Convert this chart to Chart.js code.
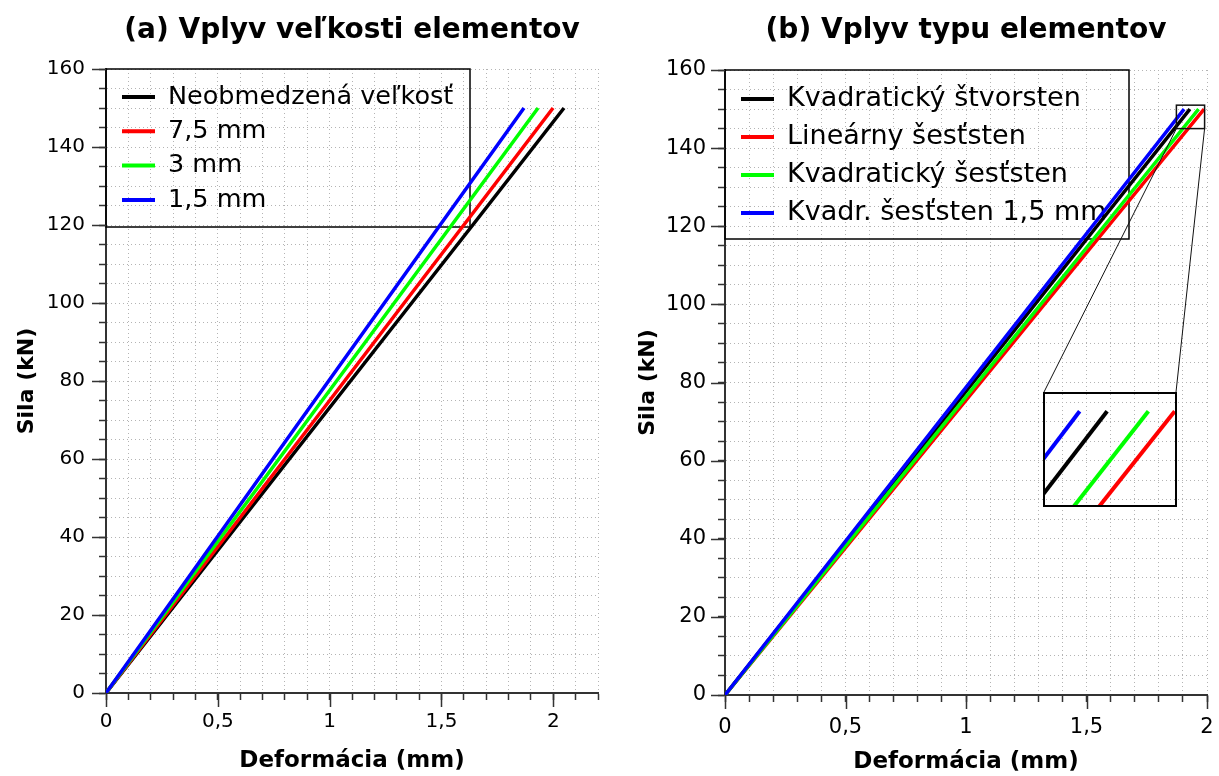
<!DOCTYPE html>
<html>
<head>
<meta charset="utf-8">
<script src="https://cdn.jsdelivr.net/npm/chart.js@4.4.0/dist/chart.umd.min.js"></script>
<style>
  html, body { margin: 0; padding: 0; background: #fff; }
  #wrap { position: relative; width: 1219px; height: 776px; overflow: hidden; }
  #leftChart { position: absolute; left: 0; top: 0; }
  #rightChart { position: absolute; left: 610px; top: 0; }
  #insetChart { position: absolute; left: 1043px; top: 392px; }
</style>
</head>
<body>
<div id="wrap">
  <canvas id="leftChart" width="610" height="776"></canvas>
  <canvas id="rightChart" width="609" height="776"></canvas>
  <canvas id="insetChart" width="134" height="115"></canvas>
</div>
<script>
const sila = [0, 30, 60, 90, 120, 150];

// (a) element size - deformation (mm)
const neobmedzena = [0, 0.41, 0.82, 1.23, 1.64, 2.048];
const mm75 = [0, 0.40, 0.80, 1.20, 1.60, 1.999];
const mm3 = [0, 0.386, 0.773, 1.16, 1.546, 1.932];
const mm15 = [0, 0.373, 0.746, 1.12, 1.494, 1.869];

// (b) element type - deformation (mm)
const kvadStvorsten = [0, 0.386, 0.772, 1.158, 1.543, 1.929];
const linSeststen = [0, 0.398, 0.795, 1.193, 1.59, 1.988];
const kvadSeststen = [0, 0.393, 0.786, 1.179, 1.572, 1.965];
const kvadSeststen15 = [0, 0.381, 0.762, 1.143, 1.524, 1.905];

// axis ticks
const yLabels = [0, 20, 40, 60, 80, 100, 120, 140, 160];
const xLabels = [0, 0.5, 1, 1.5, 2];
const yStep = 5;
const xStep = 0.1;

// zoomed window shown in the inset of (b)
const insetX = [1.873, 1.99];
const insetY = [145, 151];

const FONT = '"DejaVu Sans", sans-serif';
Chart.defaults.font.family = FONT;
Chart.defaults.color = '#000';

const toPoints = xs => xs.map((x, i) => ({ x, y: sila[i] }));

const series = (label, xs, color, order) => ({
    label,
    data: toPoints(xs),
    borderColor: color,
    backgroundColor: color,
    borderWidth: 3.5,
    pointRadius: 0,
    showLine: true,
    tension: 0,
    order
});

const stepTicks = (max, step) => {
    const out = [];
    for (let i = 0; i * step <= max + 1e-9; i++) out.push({ value: Math.round(i * step * 1000) / 1000 });
    return out;
};
const isLabel = (v, list) => list.some(l => Math.abs(l - v) < 1e-6);

// longer tick marks at the labelled values
const majorTicks = {
    id: 'majorTicks',
    afterDraw(chart) {
        const { ctx, chartArea: ca, scales: { x, y } } = chart;
        ctx.save();
        ctx.strokeStyle = '#333';
        ctx.lineWidth = 1.5;
        ctx.beginPath();
        xLabels.forEach(v => {
            if (v > x.max) return;
            const px = Math.round(x.getPixelForValue(v)) + 0.5;
            ctx.moveTo(px, ca.bottom);
            ctx.lineTo(px, ca.bottom + 14);
        });
        yLabels.forEach(v => {
            const py = Math.round(y.getPixelForValue(v)) + 0.5;
            ctx.moveTo(ca.left - 14, py);
            ctx.lineTo(ca.left, py);
        });
        ctx.stroke();
        ctx.restore();
    }
};

// boxed legend in the top-left corner of the plot
const boxLegend = {
    id: 'boxLegend',
    beforeDatasetsDraw(chart, args, o) {
        const { ctx, chartArea: ca } = chart;
        ctx.save();
        ctx.strokeStyle = '#000';
        ctx.lineWidth = 1.5;
        ctx.strokeRect(ca.left, ca.top, o.width, o.height);
        ctx.font = o.fontSize + 'px ' + FONT;
        ctx.textBaseline = 'middle';
        ctx.fillStyle = '#000';
        chart.data.datasets.forEach((ds, i) => {
            const y = ca.top + o.firstRow + i * o.rowGap;
            ctx.strokeStyle = ds.borderColor;
            ctx.lineWidth = 4;
            ctx.beginPath();
            ctx.moveTo(ca.left + 16, y);
            ctx.lineTo(ca.left + 49, y);
            ctx.stroke();
            ctx.fillText(ds.label, ca.left + 62, y);
        });
        ctx.restore();
    }
};

// title centred over the plot area
const plotTitle = {
    id: 'plotTitle',
    afterDraw(chart, args, o) {
        const { ctx, chartArea: ca } = chart;
        ctx.save();
        ctx.font = 'bold ' + o.size + 'px ' + FONT;
        ctx.textAlign = 'center';
        ctx.textBaseline = 'middle';
        ctx.fillStyle = '#000';
        ctx.fillText(o.text, (ca.left + ca.right) / 2, o.y);
        ctx.restore();
    }
};

// zoom rectangle and connector lines towards the inset
const zoomBox = {
    id: 'zoomBox',
    afterDraw(chart) {
        const { ctx, scales: { x, y } } = chart;
        const inset = document.getElementById('insetChart');
        const ox = inset.offsetLeft - chart.canvas.offsetLeft;
        const oy = inset.offsetTop - chart.canvas.offsetTop;
        const x0 = x.getPixelForValue(insetX[0]), x1 = x.getPixelForValue(insetX[1]);
        const y0 = y.getPixelForValue(insetY[0]), y1 = y.getPixelForValue(insetY[1]);
        ctx.save();
        ctx.strokeStyle = '#111';
        ctx.lineWidth = 1.5;
        ctx.strokeRect(x0, y1, x1 - x0, y0 - y1);
        ctx.lineWidth = 1;
        ctx.beginPath();
        ctx.moveTo(x0, y0);
        ctx.lineTo(ox + 1, oy);
        ctx.moveTo(x1, y0);
        ctx.lineTo(ox + inset.width - 1, oy);
        ctx.stroke();
        ctx.restore();
    }
};

const makeOptions = (cfg) => ({
    responsive: false,
    animation: false,
    devicePixelRatio: 1,
    events: [],
    layout: { padding: { left: 0, right: cfg.padRight, top: cfg.top, bottom: 0 } },
    plugins: {
        legend: { display: false },
        tooltip: { enabled: false },
        boxLegend: cfg.legend,
        plotTitle: cfg.title
    },
    scales: {
        x: {
            type: 'linear',
            min: 0,
            max: cfg.xMax,
            afterBuildTicks: s => { s.ticks = stepTicks(cfg.xMax, xStep); },
            afterFit: s => {
                s.height = cfg.xHeight;
                s.paddingLeft = 0;
                s.paddingRight = 0;
            },
            grid: { color: '#b4b4b4', lineWidth: 1, tickLength: 7, tickColor: '#333', tickWidth: 1.5 },
            border: { color: '#333', width: 2, dash: [1, 3] },
            ticks: {
                autoSkip: false,
                maxRotation: 0,
                padding: cfg.xPad,
                font: { size: cfg.tickSize },
                callback: v => isLabel(v, xLabels) ? String(Math.round(v * 10) / 10).replace('.', ',') : ''
            },
            title: {
                display: true,
                text: 'Deformácia (mm)',
                font: { size: 23, weight: 'bold' },
                padding: { top: 0, bottom: cfg.xTitlePad }
            }
        },
        y: {
            type: 'linear',
            min: 0,
            max: 160,
            afterBuildTicks: s => { s.ticks = stepTicks(160, yStep); },
            afterFit: s => { s.width = cfg.yWidth; },
            grid: { color: '#b4b4b4', lineWidth: 1, tickLength: 7, tickColor: '#333', tickWidth: 1.5 },
            border: { color: '#333', width: 2, dash: [1, 3] },
            ticks: {
                autoSkip: false,
                padding: cfg.yPad,
                font: { size: cfg.tickSize },
                callback: v => isLabel(v, yLabels) ? String(v) : ''
            },
            title: {
                display: true,
                text: 'Sila (kN)',
                font: { size: 22, weight: 'bold' },
                padding: { top: cfg.yTitlePad, bottom: 0 }
            }
        }
    }
});

new Chart(document.getElementById('leftChart'), {
    type: 'scatter',
    data: {
        datasets: [
            series('Neobmedzená veľkosť', neobmedzena, '#000000', 4),
            series('7,5 mm', mm75, '#ff0000', 3),
            series('3 mm', mm3, '#00ff00', 2),
            series('1,5 mm', mm15, '#0000ff', 1)
        ]
    },
    options: makeOptions({
        padRight: 12, top: 69, xMax: 2.2, xHeight: 83, yWidth: 106,
        xPad: 10, yPad: 14, tickSize: 20, xTitlePad: 1, yTitlePad: 14,
        legend: { width: 364, height: 158, firstRow: 28, rowGap: 34.3, fontSize: 25.5 },
        title: { text: '(a) Vplyv veľkosti elementov', size: 28, y: 31 }
    }),
    plugins: [boxLegend, plotTitle, majorTicks]
});

const typeSeries = () => [
    series('Kvadratický štvorsten', kvadStvorsten, '#000000', 3),
    series('Lineárny šesťsten', linSeststen, '#ff0000', 4),
    series('Kvadratický šesťsten', kvadSeststen, '#00ff00', 2),
    series('Kvadr. šesťsten 1,5 mm', kvadSeststen15, '#0000ff', 1)
];

new Chart(document.getElementById('rightChart'), {
    type: 'scatter',
    data: { datasets: typeSeries() },
    options: makeOptions({
        padRight: 12, top: 70, xMax: 2, xHeight: 81, yWidth: 115,
        xPad: 13, yPad: 12, tickSize: 21, xTitlePad: 0, yTitlePad: 25,
        legend: { width: 404, height: 169, firstRow: 29, rowGap: 38, fontSize: 27 },
        title: { text: '(b) Vplyv typu elementov', size: 28, y: 31 }
    }),
    plugins: [boxLegend, plotTitle, majorTicks, zoomBox]
});

// inset: same data, zoomed to the line ends
const insetFrame = {
    id: 'insetFrame',
    afterDraw(chart) {
        const { ctx, width, height } = chart;
        ctx.save();
        ctx.strokeStyle = '#000';
        ctx.lineWidth = 2;
        ctx.strokeRect(1, 1, width - 2, height - 2);
        ctx.restore();
    }
};

const insetData = typeSeries();
insetData.forEach(d => { d.borderWidth = 4; });

new Chart(document.getElementById('insetChart'), {
    type: 'scatter',
    data: { datasets: insetData },
    options: {
        responsive: false,
        animation: false,
        devicePixelRatio: 1,
        events: [],
        layout: { padding: 0 },
        plugins: { legend: { display: false }, tooltip: { enabled: false } },
        scales: {
            x: { type: 'linear', min: insetX[0], max: insetX[1], display: false },
            y: { type: 'linear', min: insetY[0], max: insetY[1], display: false }
        }
    },
    plugins: [insetFrame]
});
</script>
</body>
</html>
